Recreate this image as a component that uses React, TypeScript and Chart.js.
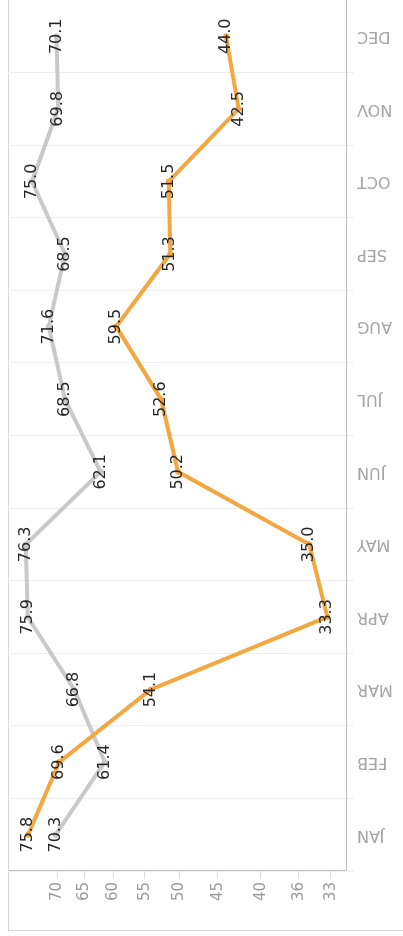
import React, { useEffect, useRef } from "react";
import { Chart, registerables } from "chart.js";

Chart.register(...registerables);

const MONTHS = ["JAN", "FEB", "MAR", "APR", "MAY", "JUN", "JUL", "AUG", "SEP", "OCT", "NOV", "DEC"];
const ORANGE_VALUES = [75.8, 69.6, 54.1, 33.3, 35.0, 50.2, 52.6, 59.5, 51.3, 51.5, 42.5, 44.0];
const GRAY_VALUES = [70.3, 61.4, 66.8, 75.9, 76.3, 62.1, 68.5, 71.6, 68.5, 75.0, 69.8, 70.1];
const VALUE_TICKS = [70, 65, 60, 55, 50, 45, 40, 36, 33];

const ORANGE = "#f4a641";
const GRAY = "#c9c9c9";

const dataLabelPlugin = {
  id: "dataLabels",
  afterDatasetsDraw(chart: any) {
    const ctx = chart.ctx;
    ctx.save();
    ctx.font = "16px 'DejaVu Sans'";
    ctx.fillStyle = "#262626";
    ctx.textAlign = "center";
    ctx.textBaseline = "middle";
    chart.data.datasets.forEach((ds: any, i: number) => {
      const meta = chart.getDatasetMeta(i);
      meta.data.forEach((el: any, j: number) => {
        ctx.fillText(Number(ds.data[j]).toFixed(1), el.x, el.y);
      });
    });
    ctx.restore();
  },
};

export default function App() {
  const ref = useRef<HTMLCanvasElement | null>(null);

  useEffect(() => {
    if (!ref.current) return;
    const all = [...ORANGE_VALUES, ...GRAY_VALUES];
    const chart = new Chart(ref.current, {
      type: "line",
      data: {
        labels: MONTHS,
        datasets: [
          {
            label: "A",
            data: ORANGE_VALUES,
            borderColor: ORANGE,
            backgroundColor: ORANGE,
            borderWidth: 4,
            pointRadius: 3,
            pointBorderWidth: 0,
            tension: 0,
          },
          {
            label: "B",
            data: GRAY_VALUES,
            borderColor: GRAY,
            backgroundColor: GRAY,
            borderWidth: 4,
            pointRadius: 3,
            pointBorderWidth: 0,
            tension: 0,
          },
        ],
      },
      options: {
        responsive: false,
        animation: false,
        devicePixelRatio: 1,
        layout: { autoPadding: false, padding: { top: 8, left: 0, right: -1, bottom: 0 } },
        plugins: {
          legend: { display: false },
          tooltip: { enabled: false },
        },
        scales: {
          x: {
            type: "category",
            offset: true,
            grid: {
              offset: true,
              color: "#eeeeee",
              tickLength: 8,
              drawOnChartArea: true,
            },
            border: { color: "#bdbdbd", width: 1 },
            ticks: {
              minRotation: 90,
              maxRotation: 90,
              autoSkip: false,
              padding: 3,
              color: "#a6a6a6",
              font: { family: "'DejaVu Sans'", size: 16 },
            },
            afterFit: (scale: any) => {
              scale.height = 57;
              scale.paddingLeft = 0;
              scale.paddingRight = 0;
            },
          },
          y: {
            type: "logarithmic",
            min: Math.min(...all) * 0.95,
            max: Math.max(...all) * 1.05,
            grid: {
              drawOnChartArea: false,
              color: "#dddddd",
              tickLength: 8,
            },
            border: { color: "#c4c4c4", width: 1 },
            afterBuildTicks: (scale: any) => {
              scale.ticks = VALUE_TICKS.map((v) => ({ value: v }));
            },
            ticks: {
              padding: 3,
              color: "#9a9a9a",
              font: { family: "'DejaVu Sans'", size: 15 },
              callback: (v: any) => String(v),
            },
            afterFit: (scale: any) => {
              scale.width = 65;
              scale.paddingTop = 0;
              scale.paddingBottom = 0;
            },
          },
        },
      },
      plugins: [dataLabelPlugin],
    });
    return () => chart.destroy();
  }, []);

  return (
    <div
      style={{
        position: "fixed",
        left: 0,
        top: 0,
        width: 403,
        height: 936,
        overflow: "hidden",
        background: "#ffffff",
      }}
    >
      <div
        style={{
          position: "absolute",
          left: 8,
          top: 0,
          width: 395,
          height: 931,
          borderLeft: "1px solid #d6d6d6",
          borderBottom: "1px solid #d6d6d6",
          boxSizing: "border-box",
        }}
      />
      <div
        style={{
          position: "absolute",
          left: 0,
          top: 0,
          width: 936,
          height: 403,
          transformOrigin: "0 0",
          transform: "translateY(936px) rotate(-90deg)",
        }}
      >
        <canvas ref={ref} width={936} height={403} style={{ width: 936, height: 403, display: "block" }} />
      </div>
    </div>
  );
}
